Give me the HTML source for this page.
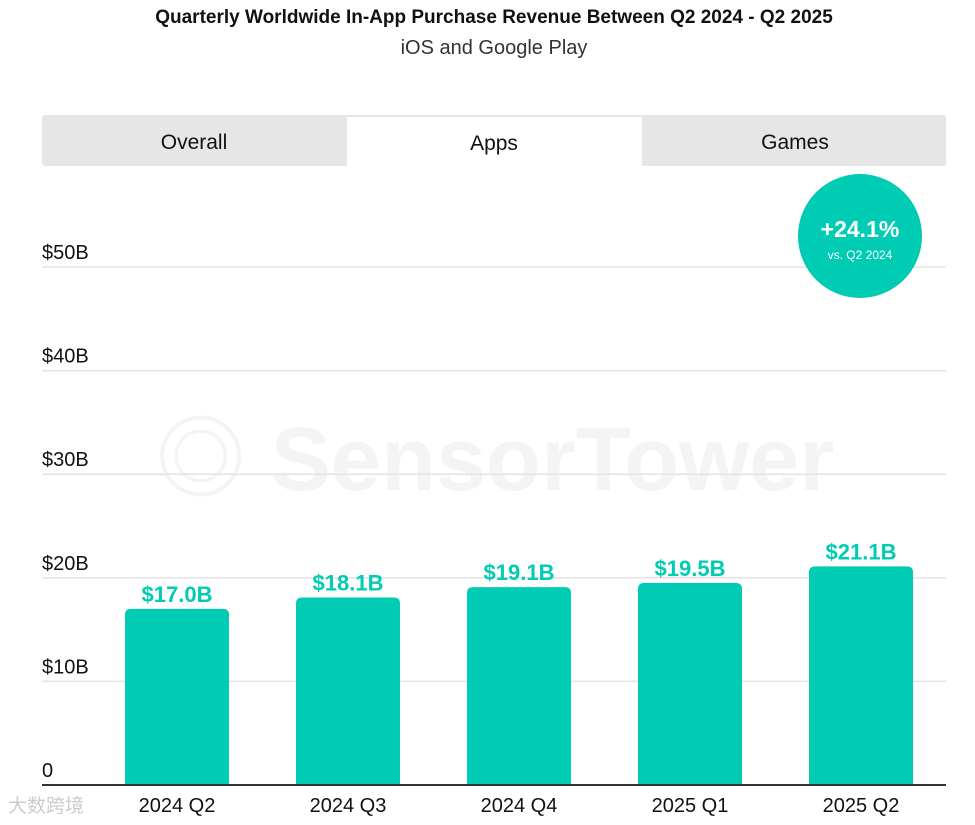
<!DOCTYPE html>
<html><head><meta charset="utf-8"><style>
body{margin:0;background:#fff;width:975px;height:825px;overflow:hidden;font-family:"Liberation Sans","Noto Sans CJK SC",sans-serif;}
svg{display:block}
</style></head><body>
<svg width="975" height="825">
<text x="494" y="23" text-anchor="middle" font-size="19" font-weight="bold" fill="#111">Quarterly Worldwide In-App Purchase Revenue Between Q2 2024 - Q2 2025</text>
<text x="494" y="54" text-anchor="middle" font-size="20" fill="#333">iOS and Google Play</text>
<g>
<rect x="42" y="115" width="904" height="51" rx="3" fill="#e6e6e6"/>
<rect x="347" y="117" width="295" height="49" fill="#fff"/>
<text x="194" y="149" text-anchor="middle" font-size="21" fill="#111">Overall</text>
<text x="494" y="150" text-anchor="middle" font-size="21" fill="#111">Apps</text>
<text x="795" y="149" text-anchor="middle" font-size="21" fill="#111">Games</text>
</g>
<text x="495" y="490" text-anchor="middle" font-size="90" font-weight="bold" fill="#f4f4f4">◎ SensorTower</text>
<g id="grid"></g>
<g id="bars"></g>
<line x1="42" y1="785" x2="946" y2="785" stroke="#333" stroke-width="2"/>
<g>
<circle cx="860" cy="236" r="62" fill="#00ccb3"/>
<text x="860" y="237" text-anchor="middle" font-size="23" font-weight="bold" fill="#fff">+24.1%</text>
<text x="860" y="259" text-anchor="middle" font-size="12" fill="#fff">vs. Q2 2024</text>
</g>
<text x="8" y="812" font-size="19" fill="#ccc">大数跨境</text>
</svg>
<script>
const categories=["2024 Q2","2024 Q3","2024 Q4","2025 Q1","2025 Q2"];
const values=[17.0,18.1,19.1,19.5,21.1];
const valueLabels=["$17.0B","$18.1B","$19.1B","$19.5B","$21.1B"];
const ticks=[0,10,20,30,40,50];
const tickLabels=["0","$10B","$20B","$30B","$40B","$50B"];
const NS="http://www.w3.org/2000/svg";
const y0=785,pxPer=10.36;
function y(v){return y0-v*pxPer;}
function x(i){return 177+i*171;}
function mk(t,a,p){const e=document.createElementNS(NS,t);for(const k in a)e.setAttribute(k,a[k]);p.appendChild(e);return e;}
const g=document.getElementById('grid'),b=document.getElementById('bars');
ticks.forEach((t,i)=>{
 if(t>0){const l=mk('line',{x1:42,x2:946,y1:y(t),y2:y(t),stroke:'#e3e3e3','stroke-width':1.5},g);
 
 }
 const tx=mk('text',{x:42,y:y(t)-8,'font-size':20,fill:'#111'},g);tx.textContent=tickLabels[i];
 
 
});
categories.forEach((c,i)=>{
 const top=y(values[i]),w=104,cx=x(i),l=cx-w/2,r=6;
 const p=mk('path',{d:`M${l},${y0}V${top+r}Q${l},${top} ${l+r},${top}H${l+w-r}Q${l+w},${top} ${l+w},${top+r}V${y0}Z`,fill:'#00ccb3'},b);
 
 
 const v=mk('text',{x:cx,y:top-7,'text-anchor':'middle','font-size':22,'font-weight':'bold',fill:'#00ccb3'},b);v.textContent=valueLabels[i];
 
 
 const xl=mk('text',{x:cx,y:812,'text-anchor':'middle','font-size':20,fill:'#111'},b);xl.textContent=c;
 
 
});
</script>
</body></html>
